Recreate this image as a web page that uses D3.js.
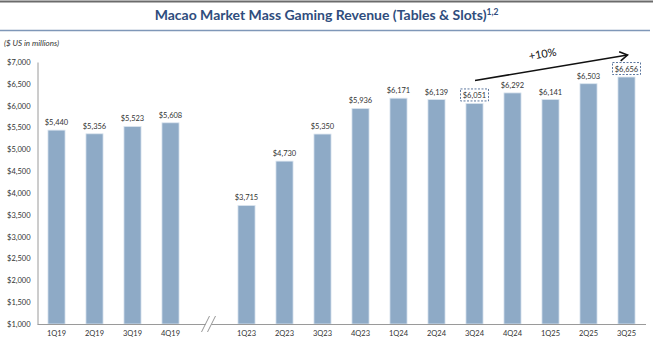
<!DOCTYPE html>
<html><head><meta charset="utf-8">
<script src="https://cdn.jsdelivr.net/npm/d3@7"></script>
<style>
html,body{margin:0;padding:0;background:#fff;}
svg{display:block;font-family:Lato,"Open Sans",sans-serif;}
</style></head>
<body><svg id="c" width="653" height="344"></svg>
<script>
const categories = ["1Q19","2Q19","3Q19","4Q19","","1Q23","2Q23","3Q23","4Q23","1Q24","2Q24","3Q24","4Q24","1Q25","2Q25","3Q25"];
const values = [5440,5356,5523,5608,null,3715,4730,5350,5936,6171,6139,6051,6292,6141,6503,6656];
const yTicks = [1000,1500,2000,2500,3000,3500,4000,4500,5000,5500,6000,6500,7000];
const boxed = ["3Q24","3Q25"];
const growthLabel = "+10%";

const svg = d3.select("#c");
const W = 653, H = 344;
const m = {left:37.5, right:7.5, top:62, bottom:20};
const x = d3.scaleBand().domain(categories).range([m.left, W - m.right]).paddingInner(0.55).paddingOuter(0.275);
const y = d3.scaleLinear().domain([1000,7000]).range([H - m.bottom, m.top]);
const fmt = d => "$" + d3.format(",")(d);

// frame lines
svg.append("line").attr("x1",0).attr("x2",W).attr("y1",1.5).attr("y2",1.5).attr("stroke","#6b6b6b").attr("stroke-width",2);
svg.append("line").attr("x1",0).attr("x2",650).attr("y1",30.5).attr("y2",30.5).attr("stroke","#7f97b8").attr("stroke-width",1.5);

// title
const t = svg.append("text").attr("x",W/2).attr("y",20).attr("text-anchor","middle")
  .attr("fill","#2f4d7d").attr("font-size",14).attr("font-weight","bold");
t.append("tspan").text("Macao Market Mass Gaming Revenue (Tables & Slots)");
t.append("tspan").attr("font-size",8.5).attr("dy",-5).text("1,2");

svg.append("text").attr("x",4).attr("y",46).attr("font-size",8).attr("font-style","italic").attr("fill","#333").text("($ US in millions)");

// y axis
const yAxis = svg.append("g").attr("transform",`translate(${m.left},0)`)
  .call(d3.axisLeft(y).tickValues(yTicks).tickFormat(fmt).tickSize(0).tickPadding(7));
yAxis.select(".domain").attr("stroke","#9a9a9a");
yAxis.selectAll("text").attr("font-size",7.5).attr("fill","#333").attr("font-family","Lato,sans-serif");

// bars
const data = categories.map((c,i)=>({c, v: values[i]})).filter(d=>d.v!=null);
svg.append("g").selectAll("rect").data(data).join("rect")
  .attr("x",d=>x(d.c)).attr("width",x.bandwidth())
  .attr("y",d=>y(d.v)).attr("height",d=>y(1000)-y(d.v))
  .attr("fill","#8eaac6").attr("stroke","#dbe5ef").attr("stroke-width",0.8);

// x axis
const xAxis = svg.append("g").attr("transform",`translate(0,${y(1000)})`)
  .call(d3.axisBottom(x).tickSize(0).tickPadding(7));
xAxis.select(".domain").attr("d",`M${m.left},0.5H646`).attr("stroke","#9a9a9a").attr("stroke-width",1.2);
xAxis.selectAll("text").attr("font-size",7.5).attr("fill","#333").attr("font-family","Lato,sans-serif");

// break marks
const bx = x("") + x.bandwidth()/2;
const by = y(1000);
svg.append("rect").attr("x",bx-3).attr("y",by-2).attr("width",6).attr("height",4).attr("fill","#fff");
[-3,3].forEach(o=>{
  svg.append("line").attr("x1",bx+o-4).attr("y1",by+8).attr("x2",bx+o+4).attr("y2",by-8)
    .attr("stroke","#8a8a8a").attr("stroke-width",0.9);
});

// value labels
svg.append("g").selectAll("text").data(data).join("text")
  .attr("x",d=>x(d.c)+x.bandwidth()/2).attr("y",d=>y(d.v)-5)
  .attr("text-anchor","middle").attr("font-size",7.5).attr("fill","#333")
  .text(d=>fmt(d.v));

// dashed boxes
data.filter(d=>boxed.includes(d.c)).forEach(d=>{
  const cx = x(d.c)+x.bandwidth()/2;
  svg.append("rect").attr("x",cx-14).attr("y",y(d.v)-14.5).attr("width",28).attr("height",12)
    .attr("fill","none").attr("stroke","#4a6894").attr("stroke-width",0.9).attr("stroke-dasharray","2,1.5");
});

// growth arrow
const x0 = x("3Q24") + x.bandwidth()/2 + 0.5, y0 = y(6051) - 23;
const x1 = x("3Q25") + x.bandwidth()/2 + 1, y1 = y(6656) - 22;
svg.append("line").attr("x1",x0).attr("y1",y0).attr("x2",x1).attr("y2",y1).attr("stroke","#111").attr("stroke-width",1.6);
const ang = Math.atan2(y1-y0, x1-x0);
const ah = 9;
const p = a => [x1 - ah*Math.cos(ang+a), y1 - ah*Math.sin(ang+a)];
svg.append("path").attr("d",`M${p(0.55)}L${x1},${y1}L${p(-0.55)}`).attr("fill","none").attr("stroke","#111").attr("stroke-width",1.6);
const mx = (x0+x1)/2 - 8, my = (y0+y1)/2 - 10;
svg.append("text").attr("transform",`translate(${mx},${my}) rotate(${ang*180/Math.PI})`)
  .attr("text-anchor","middle").attr("font-size",11).attr("fill","#111").text(growthLabel);
</script></body></html>
